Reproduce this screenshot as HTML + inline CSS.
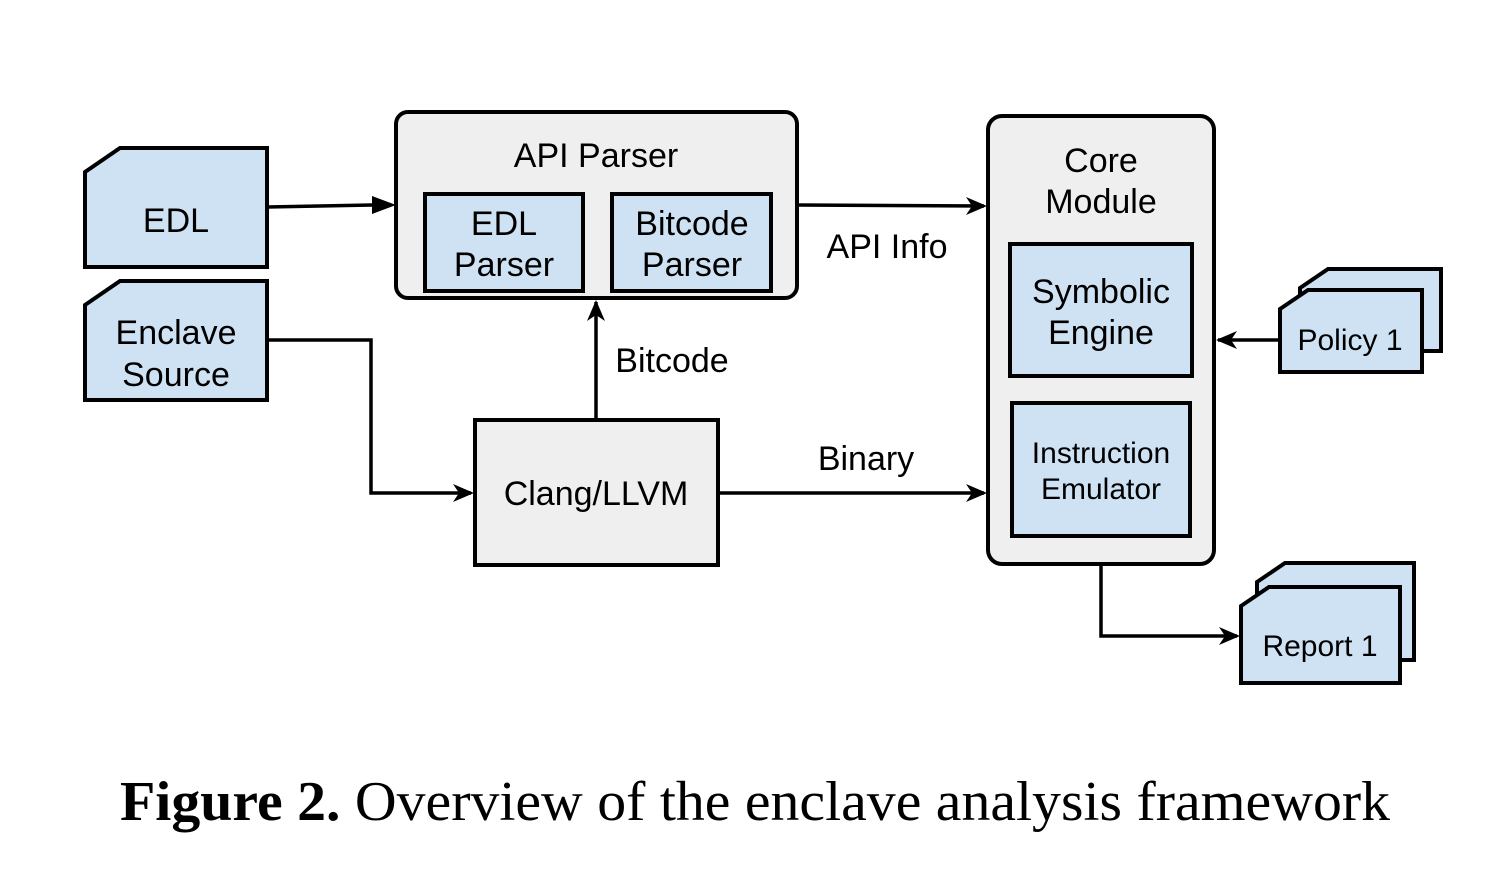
<!DOCTYPE html>
<html><head><meta charset="utf-8"><style>
html,body{margin:0;padding:0;background:#fff;}
svg{display:block;}
.t{font-family:"Liberation Sans",sans-serif;fill:#000;text-anchor:middle;}
</style></head><body>
<svg width="1497" height="886" viewBox="0 0 1497 886" xmlns="http://www.w3.org/2000/svg">
<g stroke="#000" stroke-width="4" stroke-linejoin="miter">
<path d="M85,172 L120,148 L267,148 L267,267 L85,267 Z" fill="#cfe2f3"/>
<path d="M85,305 L120,281 L267,281 L267,400 L85,400 Z" fill="#cfe2f3"/>
<rect x="396" y="112" width="401" height="186" rx="12" fill="#efefef"/>
<rect x="425" y="194" width="158" height="97" fill="#cfe2f3"/>
<rect x="612" y="194" width="159" height="97" fill="#cfe2f3"/>
<rect x="475" y="420" width="243" height="145" fill="#efefef"/>
<rect x="988" y="116" width="226" height="448" rx="14" fill="#efefef"/>
<rect x="1010" y="244" width="182" height="132" fill="#cfe2f3"/>
<rect x="1012" y="403" width="178" height="133" fill="#cfe2f3"/>
<path d="M1300,288 L1328,269 L1441,269 L1441,351 L1300,351 Z" fill="#cfe2f3"/>
<path d="M1280,309 L1308,290 L1422,290 L1422,372 L1280,372 Z" fill="#cfe2f3"/>
<path d="M1257,582 L1285,563 L1414,563 L1414,660 L1257,660 Z" fill="#cfe2f3"/>
<path d="M1241,606 L1269,587 L1400,587 L1400,683 L1241,683 Z" fill="#cfe2f3"/>
</g>
<g stroke="#000" stroke-width="3.5" fill="none">
<line x1="267" y1="207" x2="372" y2="205"/>
<line x1="797" y1="205" x2="984" y2="206"/>
<polyline points="267,340 371,340 371,493 471,493"/>
<line x1="596" y1="420" x2="596" y2="302"/>
<line x1="718" y1="493" x2="984" y2="493"/>
<line x1="1280" y1="340" x2="1218" y2="340"/>
<polyline points="1101,564 1101,636 1237,636"/>
</g>
<g fill="#000">
<path d="M396,205 L372,196 L372,214 Z"/>
<path d="M987,206 L966,197 L972,206 L966,215 Z"/>
<path d="M474,493 L453,484 L459,493 L453,502 Z"/>
<path d="M596,300 L587,321 L596,315 L605,321 Z"/>
<path d="M987,493 L966,484 L972,493 L966,502 Z"/>
<path d="M1216,340 L1237,331 L1231,340 L1237,349 Z"/>
<path d="M1240,636 L1219,627 L1225,636 L1219,645 Z"/>
</g>
<g class="t" font-size="34">
<text x="176" y="232">EDL</text>
<text x="176" y="344">Enclave</text>
<text x="176" y="386">Source</text>
<text x="596" y="167">API Parser</text>
<text x="504" y="235">EDL</text>
<text x="504" y="276">Parser</text>
<text x="692" y="235">Bitcode</text>
<text x="692" y="276">Parser</text>
<text x="596" y="505">Clang/LLVM</text>
<text x="1101" y="172">Core</text>
<text x="1101" y="213">Module</text>
<text x="1101" y="303">Symbolic</text>
<text x="1101" y="344">Engine</text>
<text x="887" y="258">API Info</text>
<text x="672" y="372">Bitcode</text>
<text x="866" y="470">Binary</text>
</g>
<g class="t" font-size="30">
<text x="1101" y="463">Instruction</text>
<text x="1101" y="499">Emulator</text>
<text x="1350" y="350">Policy 1</text>
<text x="1320" y="656">Report 1</text>
</g>
<text x="120" y="820" font-family="'Liberation Serif',serif" font-size="56" fill="#000" textLength="1270" lengthAdjust="spacingAndGlyphs"><tspan font-weight="bold">Figure 2.</tspan> Overview of the enclave analysis framework</text>
</svg>
</body></html>
